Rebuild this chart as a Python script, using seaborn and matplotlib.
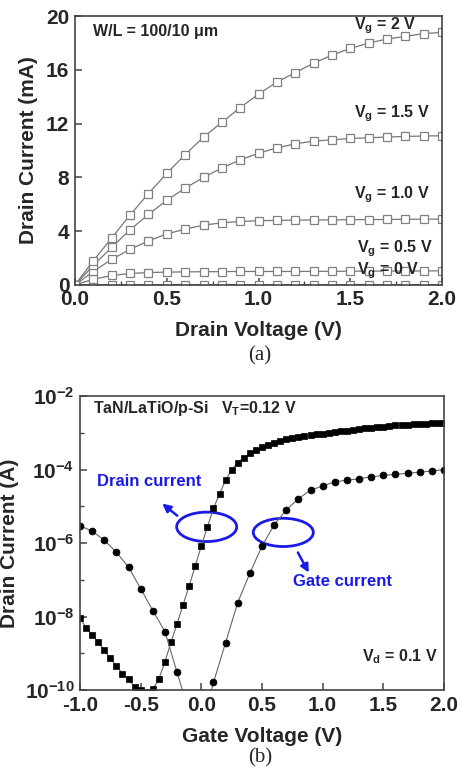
import numpy as np
import pandas as pd
import matplotlib
matplotlib.use("Agg")
import matplotlib.pyplot as plt
import seaborn as sns
from matplotlib.patches import Ellipse
from matplotlib.ticker import NullFormatter

# ---------------- data: panel (a) output characteristics ----------------
vd = [0.0, 0.1, 0.2, 0.3, 0.4, 0.5, 0.6, 0.7, 0.8, 0.9, 1.0,
      1.1, 1.2, 1.3, 1.4, 1.5, 1.6, 1.7, 1.8, 1.9, 2.0]
id_vg0 = [0.0, 0.01, 0.02, 0.02, 0.02, 0.02, 0.02, 0.02, 0.02, 0.02, 0.02,
          0.02, 0.02, 0.02, 0.02, 0.02, 0.02, 0.02, 0.02, 0.02, 0.02]
id_vg05 = [0.0, 0.42, 0.70, 0.85, 0.92, 0.95, 0.97, 0.98, 0.99, 1.0, 1.0,
           1.0, 1.0, 1.01, 1.01, 1.02, 1.02, 1.03, 1.03, 1.04, 1.05]
id_vg10 = [0.0, 1.0, 1.9, 2.65, 3.27, 3.8, 4.15, 4.45, 4.62, 4.72, 4.78,
           4.8, 4.82, 4.83, 4.84, 4.85, 4.86, 4.87, 4.88, 4.89, 4.9]
id_vg15 = [0.0, 1.45, 2.8, 4.1, 5.25, 6.3, 7.2, 8.0, 8.7, 9.3, 9.8,
           10.2, 10.5, 10.7, 10.8, 10.9, 10.95, 11.0, 11.05, 11.08, 11.1]
id_vg20 = [0.0, 1.8, 3.5, 5.2, 6.8, 8.3, 9.7, 11.0, 12.1, 13.2, 14.2,
           15.1, 15.8, 16.5, 17.1, 17.6, 18.0, 18.3, 18.5, 18.7, 18.8]
series_a = [id_vg0, id_vg05, id_vg10, id_vg15, id_vg20]
labels_a = [r"$\mathbf{V_g}$ = 0 V", r"$\mathbf{V_g}$ = 0.5 V", r"$\mathbf{V_g}$ = 1.0 V",
            r"$\mathbf{V_g}$ = 1.5 V", r"$\mathbf{V_g}$ = 2 V"]

# ---------------- data: panel (b) transfer characteristics ----------------
vg_drain = np.round(np.arange(-1.0, 2.0001, 0.05), 2)
id_drain = [8.9e-9, 5.0e-9, 3.2e-9, 2.0e-9, 1.2e-9, 7.2e-10, 4.5e-10, 2.8e-10,
            1.95e-10, 1.2e-10, 1.0e-10, 8.9e-11, 1.05e-10, 2.0e-10, 5.9e-10,
            2.0e-9, 6.3e-9, 2.1e-8, 6.9e-8,
            2.4e-7, 8.3e-7, 2.75e-6, 8.7e-6, 2.2e-5, 5.1e-5, 9.8e-5, 1.55e-4,
            2.1e-4, 2.75e-4, 3.4e-4, 4.0e-4, 4.7e-4, 5.25e-4, 6.0e-4, 6.6e-4,
            7.2e-4, 7.8e-4, 8.3e-4, 8.7e-4, 9.1e-4, 9.5e-4, 1.0e-3, 1.05e-3,
            1.1e-3, 1.15e-3, 1.2e-3, 1.26e-3, 1.32e-3, 1.38e-3, 1.45e-3, 1.48e-3,
            1.55e-3, 1.58e-3, 1.62e-3, 1.66e-3, 1.70e-3, 1.74e-3, 1.78e-3,
            1.82e-3, 1.86e-3, 1.9e-3]
vg_gate = np.round(np.arange(-1.0, 2.0001, 0.1), 2)
ig_gate = [2.95e-6, 2.1e-6, 1.2e-6, 5.6e-7, 2.2e-7, 5.7e-8, 1.45e-8, 3.9e-9,
           3.0e-10, 2.5e-11, 1.0e-11, 1.6e-10, 1.95e-9, 2.4e-8, 1.5e-7, 8.3e-7,
           3.1e-6, 8.0e-6, 1.6e-5, 2.75e-5, 3.55e-5, 4.65e-5, 5.1e-5, 5.6e-5,
           6.3e-5, 6.9e-5, 7.4e-5, 7.9e-5, 8.5e-5, 9.1e-5, 1.0e-4]
ytick_b = [1e-10, 1e-8, 1e-6, 1e-4, 1e-2]
ytick_b_labels = [r"$\mathbf{10^{-10}}$", r"$\mathbf{10^{-8}}$", r"$\mathbf{10^{-6}}$",
                  r"$\mathbf{10^{-4}}$", r"$\mathbf{10^{-2}}$"]

# ---------------- style ----------------
sns.set_theme(style="ticks")
plt.rcParams["font.family"] = ["Liberation Sans", "DejaVu Sans"]
plt.rcParams["font.weight"] = "bold"
plt.rcParams["mathtext.fontset"] = "custom"
plt.rcParams["mathtext.rm"] = "Liberation Sans:bold"
plt.rcParams["mathtext.bf"] = "Liberation Sans:bold"
plt.rcParams["mathtext.it"] = "Liberation Sans:bold"
plt.rcParams["axes.unicode_minus"] = False

spine_c = "#444444"
fig = plt.figure(figsize=(4.63, 7.7), dpi=100)
axA = fig.add_axes([0.162, 0.630, 0.793, 0.349])
axB = fig.add_axes([0.1728, 0.1039, 0.7862, 0.3818])

for ax in (axA, axB):
    for s in ax.spines.values():
        s.set_color(spine_c)
        s.set_linewidth(1.2)
    ax.tick_params(direction="in", length=5, width=1.1, color=spine_c,
                   labelsize=15, pad=4)
    ax.tick_params(which="minor", direction="in", length=3, width=1.0, color=spine_c)

# ---- panel (a)
for ys in series_a:
    sns.lineplot(x=vd, y=ys, ax=axA, color="#777777", lw=0.9, marker="s",
                 markersize=5.5, mfc="white", mec="#808080", mew=0.9)
axA.set_xlim(0, 2.0)
axA.set_ylim(0, 20)
axA.set_xticks([0.0, 0.5, 1.0, 1.5, 2.0])
axA.set_xticklabels(["0.0", "0.5", "1.0", "1.5", "2.0"], fontweight="bold")
axA.set_xticks([0.25, 0.75, 1.25, 1.75], minor=True)
axA.set_yticks([0, 4, 8, 12, 16, 20])
axA.set_yticklabels(["0", "4", "8", "12", "16", "20"], fontweight="bold")
axA.set_xlabel("Drain Voltage (V)", fontsize=15, fontweight="bold", labelpad=8)
axA.set_ylabel("Drain Current (mA)", fontsize=15, fontweight="bold", labelpad=6)

axA.text(0.049, 0.944, "W/L = 100/10 \u03bcm", transform=axA.transAxes,
         fontsize=11.5, fontweight="bold", va="center", ha="left")
pos_a = [(0.768, 0.040), (0.768, 0.120), (0.760, 0.322), (0.760, 0.622), (0.760, 0.951)]
for (tx, ty), lab in zip(pos_a, labels_a):
    axA.text(tx, ty, lab, transform=axA.transAxes, fontsize=11.5,
             fontweight="bold", va="baseline", ha="left")

# ---- panel (b)
sns.lineplot(x=vg_drain, y=id_drain, ax=axB, color="#666666", lw=0.8,
             marker="s", markersize=4.5, mfc="black", mec="black", mew=0.5)
sns.lineplot(x=vg_gate, y=ig_gate, ax=axB, color="#666666", lw=0.8,
             marker="o", markersize=5, mfc="black", mec="black", mew=0.5)
axB.set_yscale("log")
axB.set_xlim(-1.0, 2.0)
axB.set_ylim(1e-10, 1e-2)
axB.set_xticks([-1.0, -0.5, 0.0, 0.5, 1.0, 1.5, 2.0])
axB.set_xticklabels(["-1.0", "-0.5", "0.0", "0.5", "1.0", "1.5", "2.0"], fontweight="bold")
axB.set_yticks(ytick_b)
axB.set_yticklabels(ytick_b_labels)
axB.set_yticks([1e-9, 1e-7, 1e-5, 1e-3], minor=True)
axB.yaxis.set_minor_formatter(NullFormatter())
axB.tick_params(axis="x", which="minor", length=0)
axB.set_xlabel("Gate Voltage (V)", fontsize=15, fontweight="bold", labelpad=9)
axB.set_ylabel("Drain Current (A)", fontsize=15, fontweight="bold", labelpad=4)

axB.text(0.036, 0.941, r"TaN/LaTiO/p-Si   $\mathbf{V_T}$=0.12 V", transform=axB.transAxes,
         fontsize=11.5, fontweight="bold", va="baseline", ha="left")
axB.text(0.774, 0.096, r"$\mathbf{V_d}$ = 0.1 V", transform=axB.transAxes,
         fontsize=11.5, fontweight="bold", va="baseline", ha="left")
blue = "#1a1ae6"
axB.text(0.047, 0.694, "Drain current", transform=axB.transAxes, color=blue,
         fontsize=12, fontweight="bold", va="baseline", ha="left")
axB.text(0.584, 0.354, "Gate current", transform=axB.transAxes, color=blue,
         fontsize=12, fontweight="bold", va="baseline", ha="left")
axB.add_patch(Ellipse((0.348, 0.555), 0.165, 0.100, transform=axB.transAxes,
                      fill=False, ec=blue, lw=2.0))
axB.add_patch(Ellipse((0.5585, 0.536), 0.165, 0.096, transform=axB.transAxes,
                      fill=False, ec=blue, lw=2.0))
axB.annotate("", xy=(0.220, 0.640), xytext=(0.273, 0.587), xycoords="axes fraction",
             arrowprops=dict(arrowstyle="-|>", color=blue, lw=1.8, mutation_scale=12))
axB.annotate("", xy=(0.632, 0.391), xytext=(0.595, 0.476), xycoords="axes fraction",
             arrowprops=dict(arrowstyle="-|>", color=blue, lw=1.8, mutation_scale=12))

fig.text(260 / 463, 1 - 356 / 770, "(a)", fontsize=15, ha="center", va="center",
         family=["Liberation Serif"], fontweight="normal")
fig.text(260 / 463, 1 - 758 / 770, "(b)", fontsize=15, ha="center", va="center",
         family=["Liberation Serif"], fontweight="normal")

fig.savefig("out.png", dpi=100)
